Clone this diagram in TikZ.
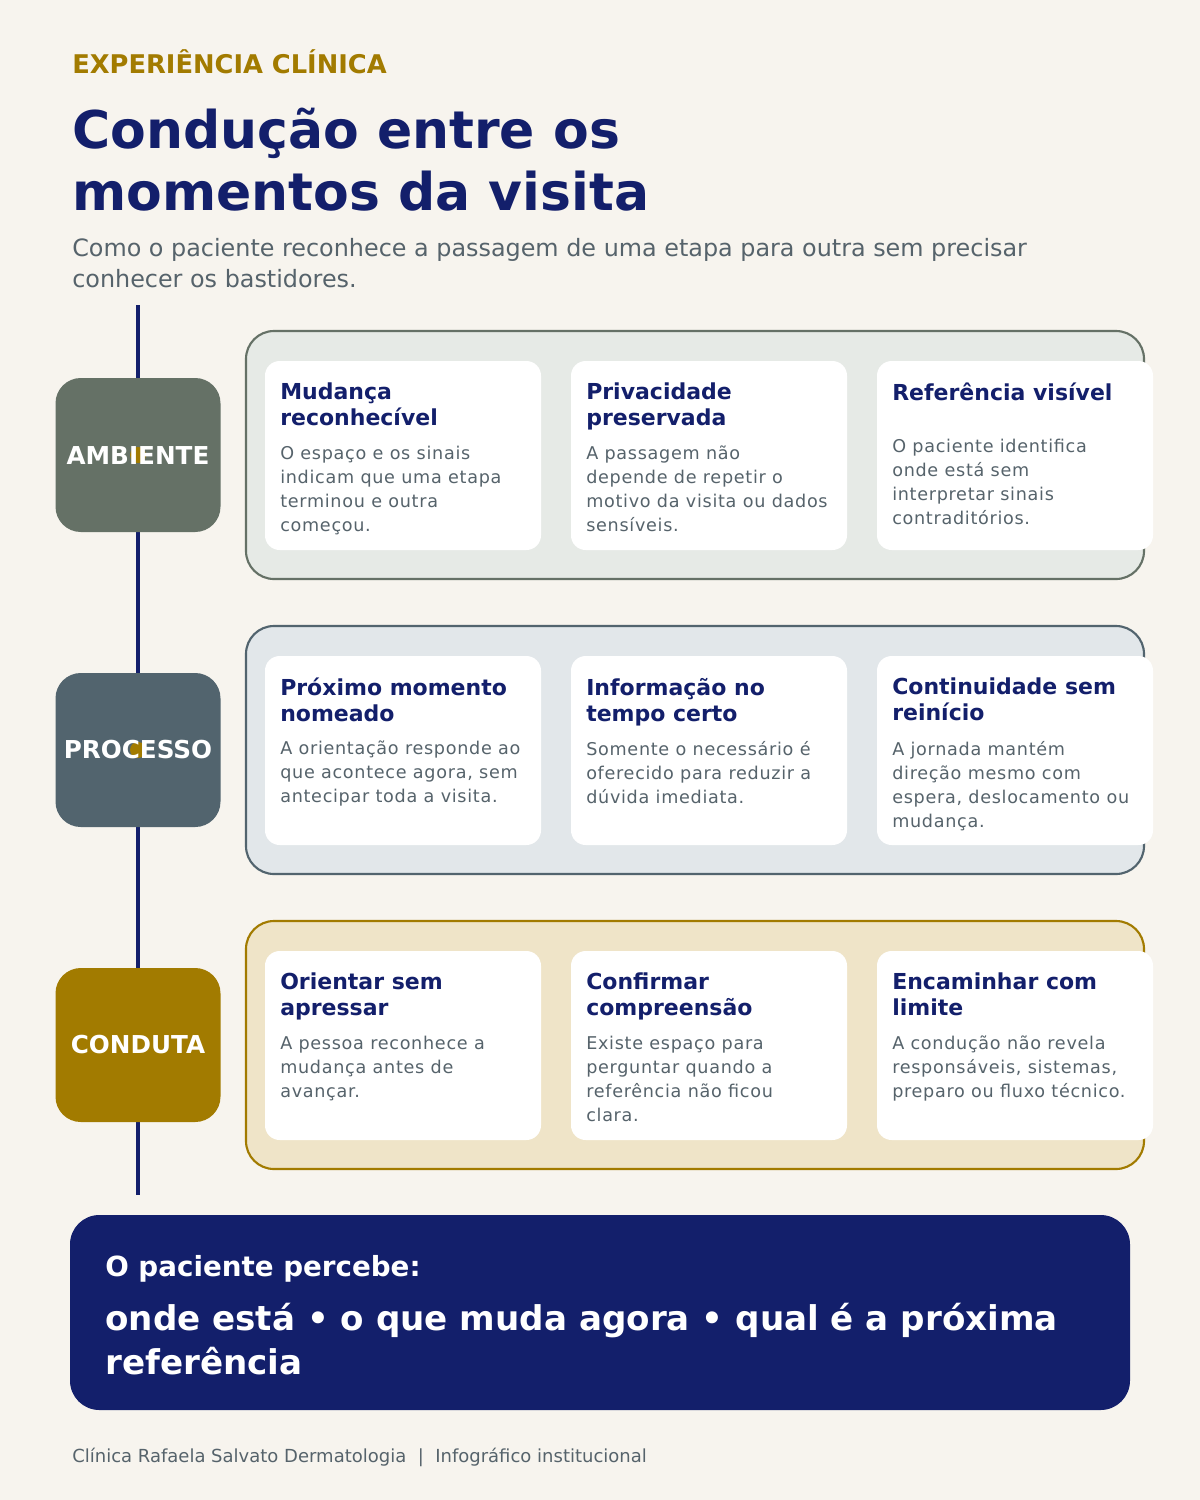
\documentclass[tikz,border=0pt]{standalone}
\usepackage{fontspec}
\setmainfont{DejaVu Sans}
\usetikzlibrary{positioning}
\definecolor{fundo}{HTML}{F7F4EE}
\definecolor{marinho}{HTML}{131F6B}
\definecolor{ouro}{HTML}{A27B00}
\definecolor{cinzatexto}{HTML}{56636B}
\definecolor{verdecinza}{HTML}{657166}
\definecolor{azulcinza}{HTML}{52646E}
\definecolor{fverde}{HTML}{E6EAE6}
\definecolor{fazul}{HTML}{E2E7EA}
\definecolor{fouro}{HTML}{EFE4C8}
\tikzset{
  etiqueta/.style={rounded corners=19pt, minimum width=123.75pt, minimum height=115.5pt, inner sep=0pt},
  painel/.style={rounded corners=21pt, line width=1.6pt},
  cartao/.style={fill=white, rounded corners=11pt},
  titulo/.style={anchor=north west, align=left, inner sep=0pt, text=marinho,
    font=\bfseries\fontsize{16.5}{19.5}\selectfont},
  corpo/.style={anchor=north west, align=left, inner sep=0pt, text=cinzatexto,
    font=\addfontfeatures{LetterSpace=4}\fontsize{13.2}{18}\selectfont},
}
\newcommand{\cartao}[5][85]{% [topo do corpo], x, y, titulo, corpo
  \fill[cartao] (#2,#3) rectangle ++(276,189);
  \node[titulo] (t#2#3) at (#2+15,#3+22) {#4};
  \node[corpo] (c#2#3) at (#2+15,#3+#1) {#5};
}
\begin{document}
\begin{tikzpicture}[x=0.75pt,y=-0.75pt]
\fill[fundo] (0,0) rectangle (1200,1500);
\useasboundingbox (0,0) rectangle (1200,1500);
% cabecalho
\node[anchor=base west, inner sep=0pt, text=ouro, font=\bfseries\fontsize{19.3}{22}\selectfont] (sobre) at (72,73) {EXPERIÊNCIA CLÍNICA};
\node[anchor=north west, inner sep=0pt, text=marinho, align=left, font=\bfseries\fontsize{39}{46.5}\selectfont] (titulo) at (72,108)
  {Condução entre os\\momentos da visita};
\node[anchor=north west, inner sep=0pt, text=cinzatexto, align=left, font=\fontsize{17.9}{23.2}\selectfont] (sub) at (72,238)
  {Como o paciente reconhece a passagem de uma etapa para outra sem precisar\\conhecer os bastidores.};
% linha do tempo
\coordinate (topo) at (138,305);
\coordinate (base) at (138,1195);
\draw[marinho, line width=3pt] (topo) -- (base);
% paineis
\draw[painel, draw=verdecinza, fill=fverde] (246,331) rectangle (1144,579);
\draw[painel, draw=azulcinza, fill=fazul] (246,626) rectangle (1144,874);
\draw[painel, draw=ouro, fill=fouro] (246,921) rectangle (1144,1169);
% etiquetas
\foreach \y/\cor/\rot in {455/verdecinza/AMBIENTE, 750/azulcinza/PROCESSO, 1045/ouro/CONDUTA}{
  \node[etiqueta, fill=\cor] (e\rot) at (138,\y) {};
  \fill[ouro] (e\rot.center) circle (6pt);
  \node[text=white, font=\bfseries\fontsize{18.5}{20}\selectfont] at (e\rot.center) {\rot};
}
% cartoes
\cartao{265}{361}{Mudança\\reconhecível}{O espaço e os sinais\\indicam que uma etapa\\terminou e outra\\começou.}
\cartao{571}{361}{Privacidade\\preservada}{A passagem não\\depende de repetir o\\motivo da visita ou dados\\sensíveis.}
\cartao[78]{877}{361}{Referência visível}{O paciente identifica\\onde está sem\\interpretar sinais\\contraditórios.}
\cartao{265}{656}{Próximo momento\\nomeado}{A orientação responde ao\\que acontece agora, sem\\antecipar toda a visita.}
\cartao{571}{656}{Informação no\\tempo certo}{Somente o necessário é\\oferecido para reduzir a\\dúvida imediata.}
\cartao{877}{656}{Continuidade sem\\reinício}{A jornada mantém\\direção mesmo com\\espera, deslocamento ou\\mudança.}
\cartao{265}{951}{Orientar sem\\apressar}{A pessoa reconhece a\\mudança antes de\\avançar.}
\cartao{571}{951}{Confirmar\\compreensão}{Existe espaço para\\perguntar quando a\\referência não ficou\\clara.}
\cartao{877}{951}{Encaminhar com\\limite}{A condução não revela\\responsáveis, sistemas,\\preparo ou fluxo técnico.}
% faixa final
\fill[marinho, rounded corners=22pt] (70,1215) rectangle (1130,1410);
\node[anchor=base west, inner sep=0pt, text=white, font=\bfseries\fontsize{20.8}{24}\selectfont] (percebe) at (105,1276) {O paciente percebe:};
\node[anchor=north west, inner sep=0pt, text=white, align=left, font=\bfseries\fontsize{25.6}{33}\selectfont] (resumo) at (105,1303)
  {onde está • o que muda agora • qual é a próxima\\referência};
% rodape
\node[anchor=base west, inner sep=0pt, text=cinzatexto, font=\fontsize{13.5}{16}\selectfont] (rodape) at (72,1462)
  {Clínica Rafaela Salvato Dermatologia \ | \ Infográfico institucional};
\end{tikzpicture}
\end{document}
